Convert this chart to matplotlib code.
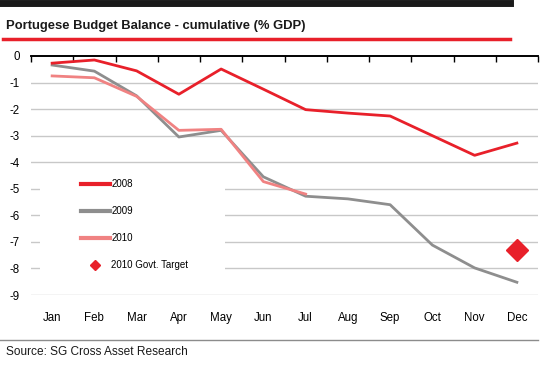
import numpy as np
import matplotlib.pyplot as plt
from matplotlib.patches import Rectangle
from matplotlib.lines import Line2D

plt.rcParams['font.family'] = ['Liberation Sans', 'DejaVu Sans']

#------------------------------ данные ------------------------------#
months = ['Jan', 'Feb', 'Mar', 'Apr', 'May', 'Jun', 'Jul', 'Aug', 'Sep', 'Oct', 'Nov', 'Dec']
bal_2008 = [-0.27, -0.15, -0.56, -1.44, -0.49, -1.25, -2.02, -2.15, -2.26, -3.0, -3.74, -3.28]
bal_2009 = [-0.34, -0.57, -1.5, -3.05, -2.8, -4.55, -5.28, -5.38, -5.6, -7.12, -7.98, -8.52]
bal_2010 = [-0.75, -0.82, -1.52, -2.8, -2.76, -4.73, -5.2]
target_month = 'Dec'
target_val = -7.32
yticks = [0, -1, -2, -3, -4, -5, -6, -7, -8, -9]

c08 = '#E8202A'
c09 = '#8E8E8E'
c10 = '#F08282'

#------------------------------ рисунок ------------------------------#
fig = plt.figure(figsize=(5.52, 3.65), dpi=100)
ax = fig.add_axes([31/552, 1 - 295/365, 507/552, 239/365])

x = np.arange(len(months))
ax.plot(x, bal_2008, color=c08, linewidth=2, label='2008', zorder=4)
ax.plot(x, bal_2009, color=c09, linewidth=2, label='2009', zorder=3)
ax.plot(x[:len(bal_2010)], bal_2010, color=c10, linewidth=2, label='2010', zorder=3.5)
ax.plot([months.index(target_month)], [target_val], marker='D', color=c08,
        markersize=11, linestyle='none', label='2010 Govt. Target', zorder=5)

ax.set_xlim(-0.5, 11.5)
ax.set_ylim(-9, 0)
ax.set_yticks(yticks)
ax.set_yticklabels([str(v) for v in yticks], fontsize=8.3)
ax.set_xticks(x)
ax.set_xticklabels(months, fontsize=8.3)
ax.tick_params(axis='both', length=0)
ax.tick_params(axis='x', pad=12)
ax.tick_params(axis='y', pad=8)
for s in ['left', 'right', 'bottom']:
    ax.spines[s].set_visible(False)
ax.spines['top'].set_linewidth(1.2)
for v in yticks[1:]:
    ax.axhline(v, color='#C8C8C8', linewidth=1, zorder=1)

sec = ax.secondary_xaxis('top')
sec.set_xticks(np.arange(-0.5, 12, 1))
sec.tick_params(direction='in', length=4, width=1, labeltop=False)
sec.spines['top'].set_linewidth(1.2)

# белая подложка под легендой
ax.add_patch(Rectangle((-0.29, -8.62), 4.38, 3.95, facecolor='white',
                       edgecolor='none', zorder=2))

handles = [
    Line2D([], [], color=c08, linewidth=3),
    Line2D([], [], color=c09, linewidth=3),
    Line2D([], [], color=c10, linewidth=3),
    Line2D([], [], color=c08, marker='D', markersize=5, linestyle='none'),
]
ax.legend(handles, ['2008', '2009', '2010', '2010 Govt. Target'],
          loc='upper left', bbox_to_anchor=(0.098, 0.485), frameon=False,
          fontsize=7, handlelength=3.0, handletextpad=0.15,
          labelspacing=1.75, borderpad=0, borderaxespad=0)

#------------------------------ оформление ------------------------------#
fig.add_artist(Line2D([0, 510/552], [1 - 3/365, 1 - 3/365], color='#1A1A1A',
                      linewidth=5))
fig.text(6/552, 1 - 26/365, 'Portugese Budget Balance - cumulative (% GDP)',
         fontsize=9.4, fontweight='bold', va='center', ha='left', color='#1A1A1A')
fig.add_artist(Line2D([3/552, 510/552], [1 - 39/365, 1 - 39/365], color=c08,
                      linewidth=2.5))
fig.add_artist(Line2D([0, 538/552], [1 - 340/365, 1 - 340/365], color='#8C8C8C',
                      linewidth=1))
fig.text(6/552, 1 - 352/365, 'Source: SG Cross Asset Research', fontsize=8.6,
         va='center', ha='left', color='#1A1A1A')

fig.savefig('out.png', dpi=100)
